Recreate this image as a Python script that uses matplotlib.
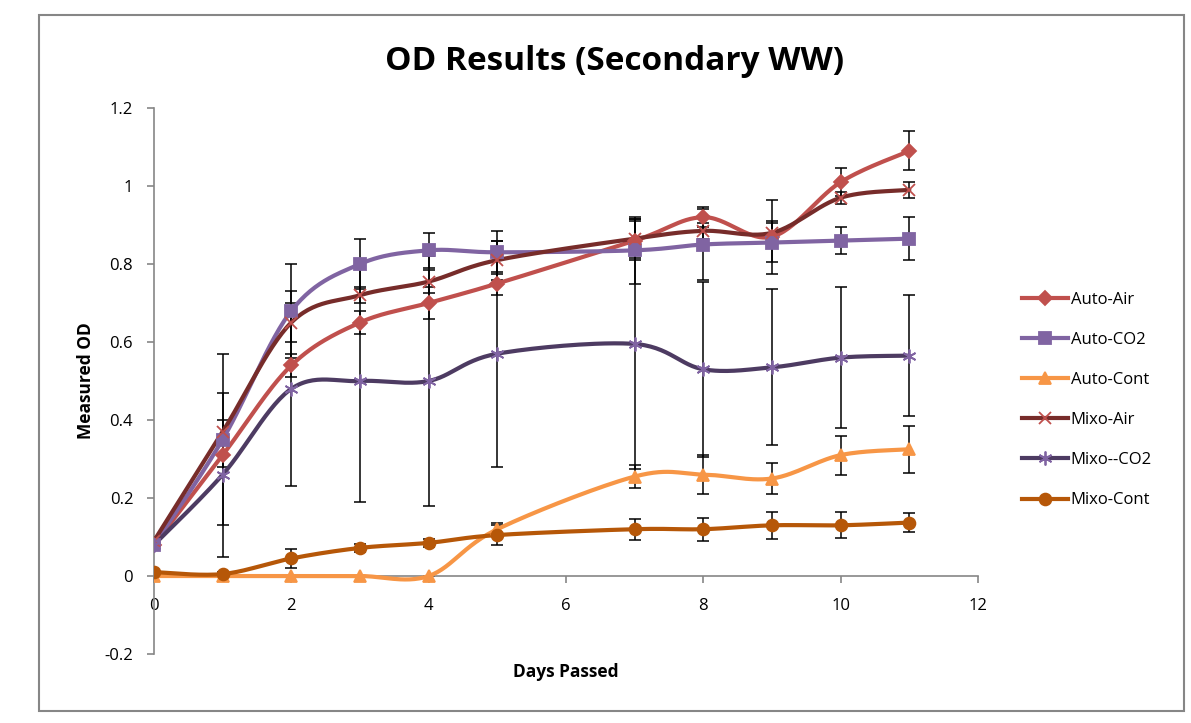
import numpy as np
import matplotlib
matplotlib.use("Agg")
import matplotlib.pyplot as plt
from matplotlib.lines import Line2D
from matplotlib.patches import Rectangle

plt.rcParams['font.family'] = ['Open Sans', 'DejaVu Sans']

# ------------------------------- DATA ---------------------------------------
days = [0, 1, 2, 3, 4, 5, 7, 8, 9, 10, 11]

auto_air = [0.08, 0.31, 0.54, 0.65, 0.70, 0.75, 0.86, 0.92, 0.87, 1.01, 1.09]
auto_co2 = [0.08, 0.35, 0.68, 0.80, 0.835, 0.83, 0.835, 0.85, 0.855, 0.86, 0.865]
auto_cont = [0.0, 0.0, 0.0, 0.0, 0.0, 0.12, 0.255, 0.26, 0.25, 0.31, 0.325]
mixo_air = [0.09, 0.37, 0.65, 0.72, 0.755, 0.81, 0.865, 0.885, 0.88, 0.97, 0.99]
mixo_co2 = [0.08, 0.26, 0.48, 0.50, 0.50, 0.57, 0.595, 0.53, 0.535, 0.56, 0.565]
mixo_cont = [0.01, 0.005, 0.045, 0.072, 0.085, 0.105, 0.12, 0.12, 0.13, 0.13, 0.137]

# standard deviations (error bars)
auto_air_err = [0.01, 0.03, 0.03, 0.03, 0.04, 0.03, 0.05, 0.025, 0.095, 0.035, 0.05]
auto_co2_err = [0.01, 0.22, 0.12, 0.065, 0.045, 0.055, 0.085, 0.09, 0.05, 0.035, 0.055]
auto_cont_err = [0.0, 0.0, 0.0, 0.0, 0.0, 0.015, 0.03, 0.05, 0.04, 0.05, 0.06]
mixo_air_err = [0.01, 0.03, 0.05, 0.02, 0.03, 0.05, 0.05, 0.02, 0.03, 0.015, 0.02]
mixo_co2_err = [0.01, 0.21, 0.25, 0.31, 0.32, 0.29, 0.32, 0.225, 0.2, 0.18, 0.155]
mixo_cont_err = [0.005, 0.005, 0.025, 0.01, 0.01, 0.025, 0.027, 0.03, 0.035, 0.033, 0.025]

labels = ["Auto-Air", "Auto-CO2", "Auto-Cont", "Mixo-Air", "Mixo--CO2", "Mixo-Cont"]
series = [auto_air, auto_co2, auto_cont, mixo_air, mixo_co2, mixo_cont]
errors = [auto_air_err, auto_co2_err, auto_cont_err, mixo_air_err, mixo_co2_err, mixo_cont_err]

# style: (line colour, marker, marker colour, marker size)
styles = [
    ("#C0504D", "D", "#C0504D", 7.5),
    ("#8064A2", "s", "#8064A2", 9),
    ("#F79646", "^", "#F79646", 9),
    ("#772C2A", "x", "#C0504D", 9),
    ("#4D3B62", (6, 2, 0), "#8064A2", 10),
    ("#B65708", "o", "#B65708", 8.5),
]


def smooth(ax, x, y, n=30):
    """Excel-style smoothed line: Catmull-Rom Bezier in screen space."""
    pts = ax.transData.transform(np.column_stack([x, y]))
    p = np.vstack([pts[0], pts, pts[-1]])
    out = []
    t = np.linspace(0, 1, n)[:, None]
    for i in range(1, len(p) - 2):
        p0, p1, p2, p3 = p[i - 1], p[i], p[i + 1], p[i + 2]
        b1 = p1 + (p2 - p0) / 6.0
        b2 = p2 - (p3 - p1) / 6.0
        seg = ((1 - t) ** 3) * p1 + 3 * ((1 - t) ** 2) * t * b1 \
            + 3 * (1 - t) * t ** 2 * b2 + t ** 3 * p2
        out.append(seg)
    curve = np.vstack(out)
    back = ax.transData.inverted().transform(curve)
    return back[:, 0], back[:, 1]


# ------------------------------- PLOTTING -----------------------------------
W, H = 1191, 723
fig = plt.figure(figsize=(W / 100, H / 100), dpi=100)

# chart border
fig.patches.append(Rectangle((39 / W, 1 - 711 / H), (1184 - 39) / W, (711 - 15) / H,
                             transform=fig.transFigure, fill=False,
                             edgecolor="#868686", linewidth=1.5))

ax = fig.add_axes([154 / W, 1 - 654 / H, (978 - 154) / W, (654 - 108) / H])
ax.set_xlim(0, 12)
ax.set_ylim(-0.2, 1.2)

for vals, err in zip(series, errors):
    ax.errorbar(days, vals, yerr=err, fmt="none", ecolor="black",
                elinewidth=1.1, capsize=4.2, capthick=1.1, zorder=2)

handles = []
for vals, lab, (col, mk, mcol, ms) in zip(series, labels, styles):
    sx, sy = smooth(ax, days, vals)
    ax.plot(sx, sy, color=col, linewidth=3, zorder=3, solid_capstyle="round")
    ax.plot(days, vals, linestyle="none", marker=mk, markersize=ms,
            color=mcol, markeredgecolor=mcol, markeredgewidth=1.3, zorder=4)
    handles.append(Line2D([], [], color=col, linewidth=3, marker=mk,
                          markersize=ms, markerfacecolor=mcol,
                          markeredgecolor=mcol, markeredgewidth=1.3))

# axes styling, Excel look
for s in ["top", "right"]:
    ax.spines[s].set_visible(False)
ax.spines["left"].set_color("#868686")
ax.spines["bottom"].set_color("#868686")
ax.spines["left"].set_linewidth(1.2)
ax.spines["bottom"].set_linewidth(1.2)
ax.spines["bottom"].set_position(("data", 0))

ax.set_xticks(np.arange(0, 13, 2))
ax.set_yticks(np.round(np.arange(-0.2, 1.21, 0.2), 1))
ax.set_yticklabels(["-0.2", "0", "0.2", "0.4", "0.6", "0.8", "1", "1.2"])
ax.tick_params(axis="both", direction="out", length=5, width=1.2,
               color="#868686", labelsize=12, labelcolor="black")
ax.tick_params(axis="y", pad=10)
ax.tick_params(axis="x", pad=11)

fig.text(615 / W, 1 - 61 / H, "OD Results (Secondary WW)", ha="center",
         va="center", fontsize=24, fontweight="bold")
fig.text(566 / W, 1 - 672 / H, "Days Passed", ha="center", va="center",
         fontsize=12.5, fontweight="bold")
fig.text(86 / W, 1 - 381 / H, "Measured OD", ha="center", va="center",
         rotation=90, fontsize=12.5, fontweight="bold")

fig.legend(handles, labels, loc="upper left",
           bbox_to_anchor=(1015 / W, 1 - 285 / H), frameon=False,
           fontsize=12, handlelength=2.8, handletextpad=0.15,
           labelspacing=1.45, borderaxespad=0)

fig.savefig("out.png", dpi=100)
plt.close(fig)
